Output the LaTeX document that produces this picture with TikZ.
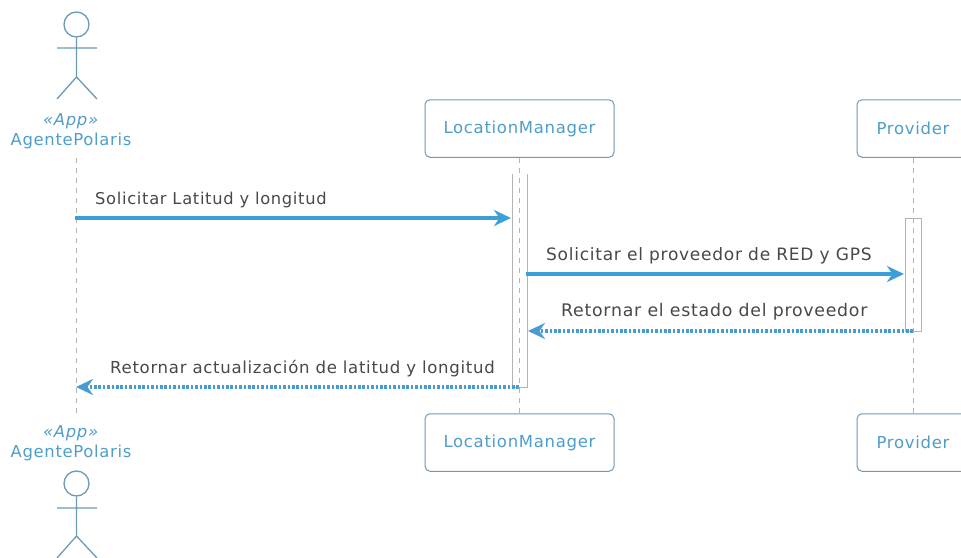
\documentclass[tikz,border=0pt]{standalone}
\usepackage{fontspec}
\setmainfont{DejaVu Sans}
\newfontfamily\spacedfont[LetterSpace=4.2]{DejaVu Sans}
\usetikzlibrary{arrows.meta}
\definecolor{edgeblue}{HTML}{6C9AB5}
\definecolor{labelblue}{HTML}{4F9DCB}
\definecolor{arrowblue}{HTML}{3C9FD9}
\definecolor{retblue}{HTML}{4A9BD0}
\definecolor{msgtext}{HTML}{484848}
\definecolor{lifegray}{HTML}{B4B4B4}
\newcommand{\sized}[1]{\spacedfont\fontsize{#1}{20}\selectfont}
\tikzset{
  partbox/.style={draw=edgeblue,line width=1pt,rounded corners=5pt,fill=white,minimum height=57.5pt,text=labelblue,font=\sized{16.5},inner sep=0pt},
  actorname/.style={text=labelblue,font=\sized{16.4},align=center,inner sep=0pt},
  msg/.style={text=msgtext,inner sep=0pt,anchor=base west},
  lifeline/.style={draw=lifegray,line width=.9pt,dash pattern=on 5pt off 5pt},
  actline/.style={draw=edgeblue,line width=1.3pt},
  actbar/.style={draw=lifegray,line width=1pt},
  call/.style={draw=arrowblue,line width=3.4pt,-{Stealth[length=17pt,width=16pt,inset=5.5pt]}},
  ret/.style={draw=retblue,line width=3.4pt,dash pattern=on 2.6pt off 1.8pt,-{Stealth[length=17pt,width=16pt,inset=5.5pt]}},
}
\begin{document}
\begin{tikzpicture}[x=1pt,y=-1pt]
\useasboundingbox (0,0) rectangle (961,557);
\clip (0,0) rectangle (961,557);
% anchors
\coordinate (atop) at (76,158);
\coordinate (abot) at (76,415);
\coordinate (a1) at (75,218);
\coordinate (a4) at (76,387);
% participants
\node[partbox,minimum width=189pt] (lmtop) at (519.5,128.5) {LocationManager};
\node[partbox,minimum width=189pt] (lmbot) at (519.5,442.5) {LocationManager};
\node[partbox,minimum width=112pt] (prtop) at (913,128.5) {Provider};
\node[partbox,minimum width=112pt] (prbot) at (913,442.5) {Provider};
% lifelines
\draw[lifeline] (atop) -- (abot);
\draw[lifeline] (lmtop.south) -- (lmbot.north);
\draw[lifeline] (prtop.south) -- (prbot.north);
% activations
\coordinate (lmA) at (512,174);
\coordinate (lmB) at (527,387);
\coordinate (prA) at (905.5,218);
\coordinate (prB) at (921,331);
\draw[actbar] (lmA) -- (lmA|-lmB) -- (lmB) -- (lmB|-lmA);
\draw[actbar] (prA) rectangle (prB);
% top actor
\node[draw=edgeblue,line width=1.3pt,circle,minimum size=25pt,inner sep=0pt] (headT) at (76.5,24.5) {};
\coordinate (hipT) at (76.5,77);
\coordinate (armLT) at (57,48);\coordinate (armRT) at (97,48);
\coordinate (legLT) at (57,99);\coordinate (legRT) at (97,99);
\draw[actline] (headT.south) -- (hipT) (armLT) -- (armRT) (legLT) -- (hipT) -- (legRT);
\node[actorname] (nameT) at (71,131.5) {\textit{«App»}\\AgentePolaris};
% bottom actor
\node[draw=edgeblue,line width=1.3pt,circle,minimum size=25pt,inner sep=0pt] (headB) at (76.5,483.5) {};
\coordinate (hipB) at (76.5,536);
\coordinate (armLB) at (57,508);\coordinate (armRB) at (97,508);
\coordinate (legLB) at (57,558);\coordinate (legRB) at (97,558);
\draw[actline] (headB.south) -- (hipB) (armLB) -- (armRB) (legLB) -- (hipB) -- (legRB);
\node[actorname] (nameB) at (71,443) {\textit{«App»}\\AgentePolaris};
% messages
\coordinate (lmIn) at (511,218);
\coordinate (lmOut) at (526,274);
\coordinate (prIn) at (904,274);
\coordinate (prOut) at (913,331);
\coordinate (lmRet) at (528,331);
\coordinate (lmOut2) at (519,387);
\draw[call] (a1) -- (lmIn);
\draw[call] (lmOut) -- (prIn);
\draw[ret] (prOut) -- (lmRet);
\draw[ret] (lmOut2) -- (a4);
\node[msg,font=\sized{16.3}] (m1) at (95,204) {Solicitar Latitud y longitud};
\node[msg,font=\sized{17.05}] (m2) at (546,260) {Solicitar el proveedor de RED y GPS};
\node[msg,font=\sized{17.35}] (m3) at (561,316.5) {Retornar el estado del proveedor};
\node[msg,font=\sized{16.55}] (m4) at (110,373) {Retornar actualización de latitud y longitud};
\end{tikzpicture}
\end{document}
